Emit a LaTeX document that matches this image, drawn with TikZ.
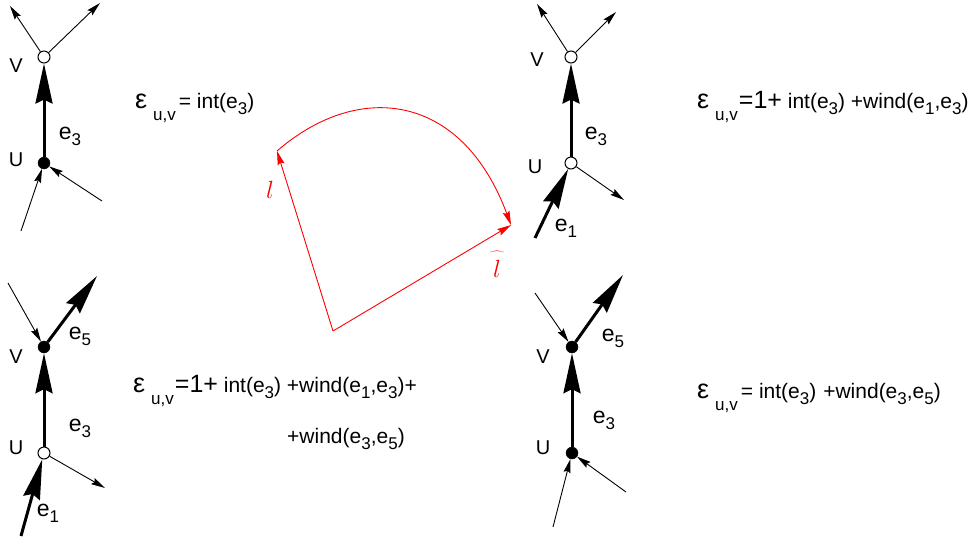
\documentclass[tikz,border=0pt]{standalone}
\usepackage{fontspec}
\setmainfont{Liberation Sans}
\usetikzlibrary{arrows.meta}
\newcommand{\fs}[1]{\fontsize{#1}{#1}\selectfont}
\newcommand{\lowsub}[2]{\raisebox{-#1}{\fs{17}#2}}
\newcommand{\epsuv}{{\fs{27}ε}\hspace{6pt}\lowsub{12pt}{u,v}}
\newcommand{\ee}[1]{e\lowsub{6pt}{#1}}
\tikzset{
  vopen/.style={circle, draw, fill=white, inner sep=0pt, minimum size=12pt, line width=1pt},
  vfill/.style={circle, fill=black, draw=black, inner sep=0pt, minimum size=12pt},
  thinarr/.style={line width=0.9pt, -{Stealth[length=14pt,width=7pt,inset=2pt]}},
  thickarr/.style={line width=3pt, -{Stealth[length=40pt,width=17pt,inset=4pt]}},
  redarr/.style={red, line width=0.9pt, -{Stealth[length=14pt,width=7pt,inset=2pt]}},
  vlab/.style={font=\fs{20}},
  elab/.style={font=\fs{23}},
  formula/.style={anchor=base west, font=\fs{21}, inner sep=0pt}
}
\begin{document}
\begin{tikzpicture}[x=1pt,y=-1pt]
\useasboundingbox (0,0) rectangle (972,542);
% ---------- panel 1 (top left)
\node[vopen] (V1) at (44,57) {};
\node[vfill] (U1) at (44,163) {};
\coordinate (a1) at (10,6);
\coordinate (b1) at (100,3);
\coordinate (c1) at (21,231);
\coordinate (d1) at (102,201);
\draw[thickarr] (U1) -- (V1);
\draw[thinarr] (V1) -- (a1);
\draw[thinarr] (V1) -- (b1);
\draw[thinarr] (c1) -- (U1);
\draw[thinarr] (d1) -- (U1);
\node[vlab] (lv1) at (16,66) {V};
\node[vlab] (lu1) at (16,160) {U};
\node[elab] (le31) at (70,136) {\ee{3}};
\node[formula] (f1) at (135,108) {\epsuv\hspace{3pt}= int(\ee{3})};
% ---------- panel 2 (top right)
\node[vopen] (V2) at (571,57) {};
\node[vopen] (U2) at (571,163) {};
\coordinate (a2) at (537,4);
\coordinate (b2) at (616,12);
\coordinate (c2) at (535,238);
\coordinate (d2) at (624,200);
\draw[thickarr] (U2) -- (V2);
\draw[thinarr] (V2) -- (a2);
\draw[thinarr] (V2) -- (b2);
\draw[thickarr] (c2) -- (U2);
\draw[thinarr] (U2) -- (d2);
\node[vlab] (lv2) at (537,60) {V};
\node[vlab] (lu2) at (535,167) {U};
\node[elab] (le32) at (596,136) {\ee{3}};
\node[elab] (le12) at (566,228) {\ee{1}};
\node[formula] (f2) at (697,108) {\epsuv\hspace{1pt}{\fs{25}=1+} int(\ee{3}) +wind(\ee{1},\ee{3})};
% ---------- panel 3 (bottom left)
\node[vfill] (V3) at (44,347) {};
\node[vopen] (U3) at (44,453) {};
\coordinate (a3) at (97,276);
\coordinate (b3) at (8,283);
\coordinate (c3) at (21,536);
\coordinate (d3) at (105,488);
\draw[thickarr] (U3) -- (V3);
\draw[thickarr] (V3) -- (a3);
\draw[thinarr] (b3) -- (V3);
\draw[thickarr] (c3) -- (U3);
\draw[thinarr] (U3) -- (d3);
\node[vlab] (lv3) at (16,357) {V};
\node[vlab] (lu3) at (16,448) {U};
\node[elab] (le33) at (80,428) {\ee{3}};
\node[elab] (le53) at (80,336) {\ee{5}};
\node[elab] (le13) at (48,513) {\ee{1}};
\node[formula] (f3) at (133,392) {\epsuv\hspace{1pt}{\fs{25}=1+} int(\ee{3}) +wind(\ee{1},\ee{3})+};
\node[formula] (f3b) at (287,443) {+wind(\ee{3},\ee{5})};
% ---------- panel 4 (bottom right)
\node[vfill] (V4) at (572,347) {};
\node[vfill] (U4) at (572,453) {};
\coordinate (a4) at (623,275);
\coordinate (b4) at (535,293);
\coordinate (c4) at (553,527);
\coordinate (d4) at (626,492);
\draw[thickarr] (U4) -- (V4);
\draw[thickarr] (V4) -- (a4);
\draw[thinarr] (b4) -- (V4);
\draw[thinarr] (c4) -- (U4);
\draw[thinarr] (d4) -- (U4);
\node[vlab] (lv4) at (543,357) {V};
\node[vlab] (lu4) at (543,448) {U};
\node[elab] (le34) at (604,420) {\ee{3}};
\node[elab] (le54) at (613,338) {\ee{5}};
\node[formula] (f4) at (697,398) {\epsuv\hspace{3pt}= int(\ee{3})\hspace{7pt}+wind(\ee{3},\ee{5})};
% ---------- red rotation sketch
\coordinate (O) at (333,331);
\coordinate (L) at (277,151);
\coordinate (LH) at (511,225);
\draw[redarr] (O) -- (L);
\draw[redarr] (O) -- (LH);
\draw[redarr] (L) .. controls (359,80) and (462,93) .. (LH);
\node[red, font=\fs{24}] (ll) at (270,190) {$l$};
\node[red, font=\fs{24}] (llh) at (497,264) {$\widehat{\rule{0pt}{0.95em}\;l\;}$};
\end{tikzpicture}
\end{document}
